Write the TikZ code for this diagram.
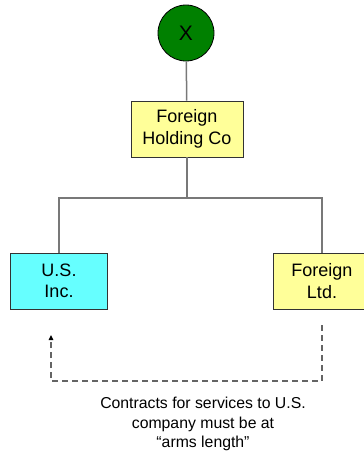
\documentclass[tikz,border=0pt]{standalone}
\usepackage{fontspec}
\setmainfont{Liberation Sans}
\usetikzlibrary{arrows.meta}
\definecolor{boxyellow}{RGB}{255,255,153}
\definecolor{boxcyan}{RGB}{102,255,255}
\definecolor{darkgreen}{RGB}{0,128,0}
\definecolor{linegray}{RGB}{120,120,120}
\definecolor{dashgray}{RGB}{100,100,100}
\begin{document}
\begin{tikzpicture}[x=1pt,y=-1pt,
  entity/.style={draw=black!80, line width=0.8pt, minimum height=56pt, align=center,
    font=\fontsize{18}{21.5}\selectfont, inner sep=0pt},
  conn/.style={draw=linegray, line width=1.5pt},
  dashconn/.style={draw=dashgray, line width=1.3pt, dash pattern=on 6pt off 4pt},
]
\useasboundingbox (0,0) rectangle (364,453);
\node[circle, draw=black, line width=0.8pt, fill=darkgreen, minimum size=56pt, inner sep=0pt,
  font=\fontsize{21}{24}\selectfont] (x) at (186,33) {X};
\node[entity, fill=boxyellow, minimum width=112pt] (hold) at (187,129) {Foreign\\Holding Co};
\node[entity, fill=boxcyan, minimum width=97pt] (us) at (59,281) {U.S.\\Inc.};
\node[entity, fill=boxyellow, minimum width=97pt] (ltd) at (322,281) {Foreign\\Ltd.};
\coordinate (bus) at (187,198);
\draw[conn] (x) -- (hold);
\draw[conn] (hold) -- (bus);
\draw[conn] (us.north) |- (bus) -| (ltd.north);
\coordinate (ds) at (322,325);
\coordinate (dc) at (322,381);
\coordinate (de) at (51,335);
\draw[dashconn, -{Triangle[length=5pt,width=4.5pt,fill=black,color=black]}] (ds) -- (dc) -| (de);
\node[align=center, font=\fontsize{15.8}{19.5}\selectfont, inner sep=0pt] (note) at (203,424)
  {Contracts for services to U.S.\\company must be at\\“arms length”};
\end{tikzpicture}
\end{document}
